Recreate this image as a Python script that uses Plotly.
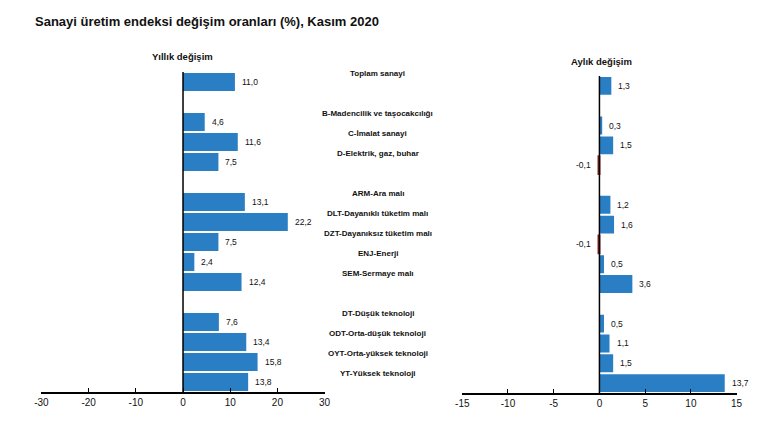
import plotly.graph_objects as go

categories = [
    "Toplam sanayi",
    "B-Madencilik ve taşocakcılığı",
    "C-İmalat sanayi",
    "D-Elektrik, gaz, buhar",
    "ARM-Ara malı",
    "DLT-Dayanıklı tüketim malı",
    "DZT-Dayanıksız tüketim malı",
    "ENJ-Enerji",
    "SEM-Sermaye malı",
    "DT-Düşük teknoloji",
    "ODT-Orta-düşük teknoloji",
    "OYT-Orta-yüksek teknoloji",
    "YT-Yüksek teknoloji",
]
annual = [11.0, 4.6, 11.6, 7.5, 13.1, 22.2, 7.5, 2.4, 12.4, 7.6, 13.4, 15.8, 13.8]
monthly = [1.3, 0.3, 1.5, -0.1, 1.2, 1.6, -0.1, 0.5, 3.6, 0.5, 1.1, 1.5, 13.7]
gap_after = [0, 3, 8]  # empty row after these category indices

annual_ticks = [-30, -20, -10, 0, 10, 20, 30]
monthly_ticks = [-15, -10, -5, 0, 5, 10, 15]

title = "Sanayi üretim endeksi değişim oranları (%), Kasım 2020"
left_title = "Yıllık değişim"
right_title = "Aylık değişim"

BLUE = "#2A7FC4"
RED = "#8E1F1F"
FONT = "Liberation Sans, Arial, sans-serif"
W, H = 779, 428

row_order = []
for i, c in enumerate(categories):
    row_order.append(c)
    if i in gap_after:
        row_order.append("gap%d" % i)


def fmt(v):
    return ("%.1f" % v).replace(".", ",")


def colors(vals):
    return [BLUE if v >= 0 else RED for v in vals]


def outline(vals):
    return [0 if v >= 0 else 2 for v in vals]


fig = go.Figure()
fig.add_trace(go.Bar(x=annual, y=categories, orientation="h",
                     marker=dict(color=colors(annual), line=dict(width=outline(annual), color=colors(annual))),
                     xaxis="x", yaxis="y", showlegend=False, hoverinfo="x+y"))
fig.add_trace(go.Bar(x=monthly, y=categories, orientation="h",
                     marker=dict(color=colors(monthly), line=dict(width=outline(monthly), color=colors(monthly))),
                     xaxis="x2", yaxis="y2", showlegend=False, hoverinfo="x+y"))

ann = []
ann.append(dict(text="<b>%s</b>" % title, x=26 / W, y=1 - 22 / H, xref="paper", yref="paper",
                xanchor="left", yanchor="middle", showarrow=False, font=dict(size=13, color="#111111", family=FONT)))
ann.append(dict(text="<b>%s</b>" % left_title, x=178 / W, y=1 - 57 / H, xref="paper", yref="paper",
                xanchor="center", yanchor="middle", showarrow=False, font=dict(size=9.5, color="#111111", family=FONT)))
ann.append(dict(text="<b>%s</b>" % right_title, x=605 / W, y=1 - 61 / H, xref="paper", yref="paper",
                xanchor="center", yanchor="middle", showarrow=False, font=dict(size=9.5, color="#111111", family=FONT)))

for c in categories:
    ann.append(dict(text="<b>%s</b>" % c, x=377 / W, y=c, xref="paper", yref="y", yshift=9,
                    xanchor="center", yanchor="middle", showarrow=False,
                    font=dict(size=8, color="#111111", family=FONT)))

for vals, xr, yr in [(annual, "x", "y"), (monthly, "x2", "y2")]:
    for c, v in zip(categories, vals):
        ann.append(dict(text=fmt(v), x=v, y=c, xref=xr, yref=yr,
                        xanchor="left" if v >= 0 else "right", xshift=5 if v >= 0 else -6,
                        yanchor="middle", showarrow=False,
                        font=dict(size=8.5, color="#111111", family=FONT)))

shapes = []
for xr, yr in [("x", "y domain"), ("x2", "y2 domain")]:
    shapes.append(dict(type="line", x0=0, x1=0, y0=0, y1=1, xref=xr, yref=yr,
                       line=dict(color="black", width=1.5), layer="above"))

axis_common = dict(showgrid=False, zeroline=False, showline=True, linecolor="black", linewidth=1.5,
                   ticks="inside", ticklen=4, tickcolor="black", tickwidth=1,
                   tickfont=dict(size=10, color="#111111", family=FONT), fixedrange=True)

fig.update_layout(
    width=W, height=H, autosize=False,
    margin=dict(l=0, r=0, t=0, b=0),
    paper_bgcolor="white", plot_bgcolor="white",
    bargap=0.1,
    font=dict(family=FONT),
    xaxis=dict(domain=[35 / W, 323 / W], range=[-30, 30], tickvals=annual_ticks,
               ticktext=[str(t) for t in annual_ticks], anchor="y", **axis_common),
    xaxis2=dict(domain=[463 / W, 742 / W], range=[-15, 15], tickvals=monthly_ticks,
                ticktext=[str(t) for t in monthly_ticks], anchor="y2", **axis_common),
    yaxis=dict(domain=[1 - 392 / H, 1 - 72 / H], type="category", categoryorder="array",
               categoryarray=row_order, range=[len(row_order) - 0.5, -0.5],
               showticklabels=False, showgrid=False, zeroline=False, showline=False, anchor="x", fixedrange=True),
    yaxis2=dict(domain=[1 - 393 / H, 1 - 76 / H], type="category", categoryorder="array",
                categoryarray=row_order, range=[len(row_order) - 0.5, -0.5],
                showticklabels=False, showgrid=False, zeroline=False, showline=False, anchor="x2", fixedrange=True),
    annotations=ann,
    shapes=shapes,
)

fig.write_html("out.html", config={"displayModeBar": False},
               post_script="document.body.style.margin='0';document.body.style.overflow='hidden';")
